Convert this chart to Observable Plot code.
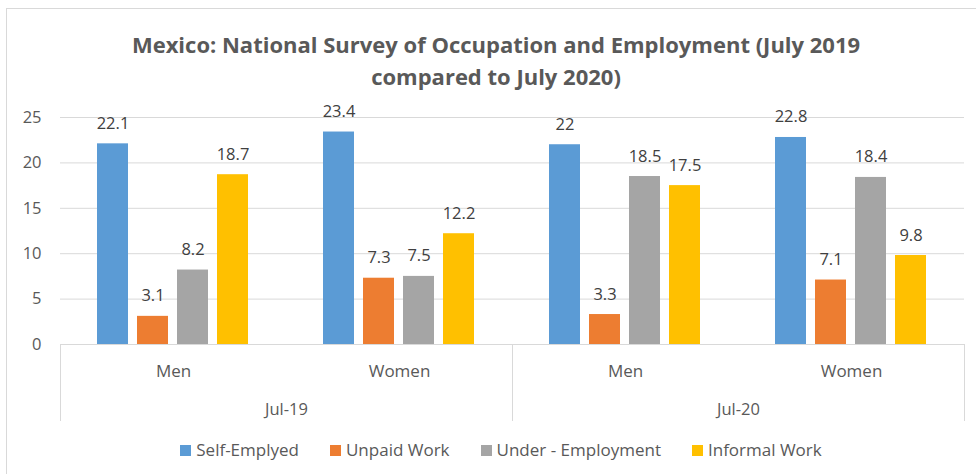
<!DOCTYPE html>
<html><head><meta charset="utf-8">
<script src="https://cdn.jsdelivr.net/npm/d3@7"></script>
<script src="https://cdn.jsdelivr.net/npm/@observablehq/plot@0.6"></script>
<style>
html,body{margin:0;padding:0;background:#fff;overflow:hidden;width:976px;height:474px;position:relative;}
#frame{position:absolute;left:6px;top:8px;width:1000px;height:500px;border:1px solid #d9d9d9;box-sizing:border-box;}
#title{position:absolute;left:0;top:28px;width:992px;text-align:center;font-family:"Open Sans";font-weight:bold;font-size:22px;line-height:32px;color:#595959;}
#chart{position:absolute;left:0;top:100px;}
#legend{position:absolute;left:0;top:438px;width:1002px;display:flex;justify-content:center;gap:31px;font-family:"Open Sans";font-size:17px;color:#595959;line-height:24px;}
.item{display:flex;align-items:center;gap:5px;}
.sw{width:11px;height:11px;display:inline-block;}
</style></head>
<body>
<div id="frame"></div>
<div id="title">Mexico: National Survey of Occupation and Employment (July 2019<br>compared to July 2020)</div>
<div id="chart"></div>
<div id="legend"></div>
<script>
const periods = ["Jul-19", "Jul-20"];
const genders = ["Men", "Women"];
const series = ["Self-Emplyed", "Unpaid Work", "Under - Employment", "Informal Work"];
const colors = ["#5B9BD5", "#ED7D31", "#A5A5A5", "#FFC000"];
// values per group: Jul-19 Men, Jul-19 Women, Jul-20 Men, Jul-20 Women
const selfEmployed = [22.1, 23.4, 22, 22.8];
const unpaidWork = [3.1, 7.3, 3.3, 7.1];
const underEmployment = [8.2, 7.5, 18.5, 18.4];
const informalWork = [18.7, 12.2, 17.5, 9.8];
const yTicks = [0, 5, 10, 15, 20, 25];

const groupKeys = periods.flatMap(p => genders.map(g => p + "|" + g));
const seriesValues = [selfEmployed, unpaidWork, underEmployment, informalWork];
const rows = [];
groupKeys.forEach((k, gi) => {
  series.forEach((s, si) => rows.push({key: k, series: s, value: seriesValues[si][gi]}));
});

const chart = Plot.plot({
  width: 976, height: 325,
  marginTop: 17, marginBottom: 81, marginLeft: 59, marginRight: 11,
  style: {fontFamily: "Open Sans", fontSize: "16px", color: "#595959", background: "none"},
  fx: {domain: groupKeys, padding: 0, label: null, axis: null},
  x: {domain: series, paddingInner: 0.22, paddingOuter: 0.872, axis: null},
  y: {domain: [0, 25], axis: null},
  color: {domain: series, range: colors},
  marks: [
    Plot.ruleY(yTicks.filter(t => t > 0), {stroke: "#d9d9d9", strokeWidth: 1}),
    Plot.ruleY([0], {stroke: "#d9d9d9", strokeWidth: 1}),
    Plot.barY(rows, {fx: "key", x: "series", y: "value", fill: "series"}),
    Plot.text(rows, {fx: "key", x: "series", y: "value", text: d => String(d.value), lineAnchor: "bottom", dy: -15, fill: "#404040", fontSize: 16.5}),
    Plot.axisY({ticks: yTicks, tickSize: 0, tickPadding: 19, fontSize: 16.5, label: null}),
    Plot.axisFx({anchor: "bottom", tickSize: 0, tickPadding: 20, tickFormat: k => k.split("|")[1], fontSize: 17, label: null}),
    Plot.text(periods, {fx: p => p + "|Men", frameAnchor: "bottom-right", text: d => d, textAnchor: "middle", lineAnchor: "bottom", dy: 70, fontSize: 16.5, fill: "#595959"}),
    Plot.frame({fx: groupKeys[0], anchor: "left", stroke: "#d9d9d9", insetTop: 227, insetBottom: -76}),
    Plot.frame({fx: groupKeys[2], anchor: "left", stroke: "#d9d9d9", insetTop: 227, insetBottom: -76}),
    Plot.frame({fx: groupKeys[3], anchor: "right", stroke: "#d9d9d9", insetTop: 227, insetBottom: -76})
  ]
});
document.getElementById("chart").appendChild(chart);

const legend = document.getElementById("legend");
series.forEach((s, i) => {
  const item = document.createElement("div");
  item.className = "item";
  const sw = document.createElement("span");
  sw.className = "sw";
  sw.style.background = colors[i];
  const t = document.createElement("span");
  t.textContent = s;
  item.appendChild(sw); item.appendChild(t);
  legend.appendChild(item);
});
</script>
</body></html>
